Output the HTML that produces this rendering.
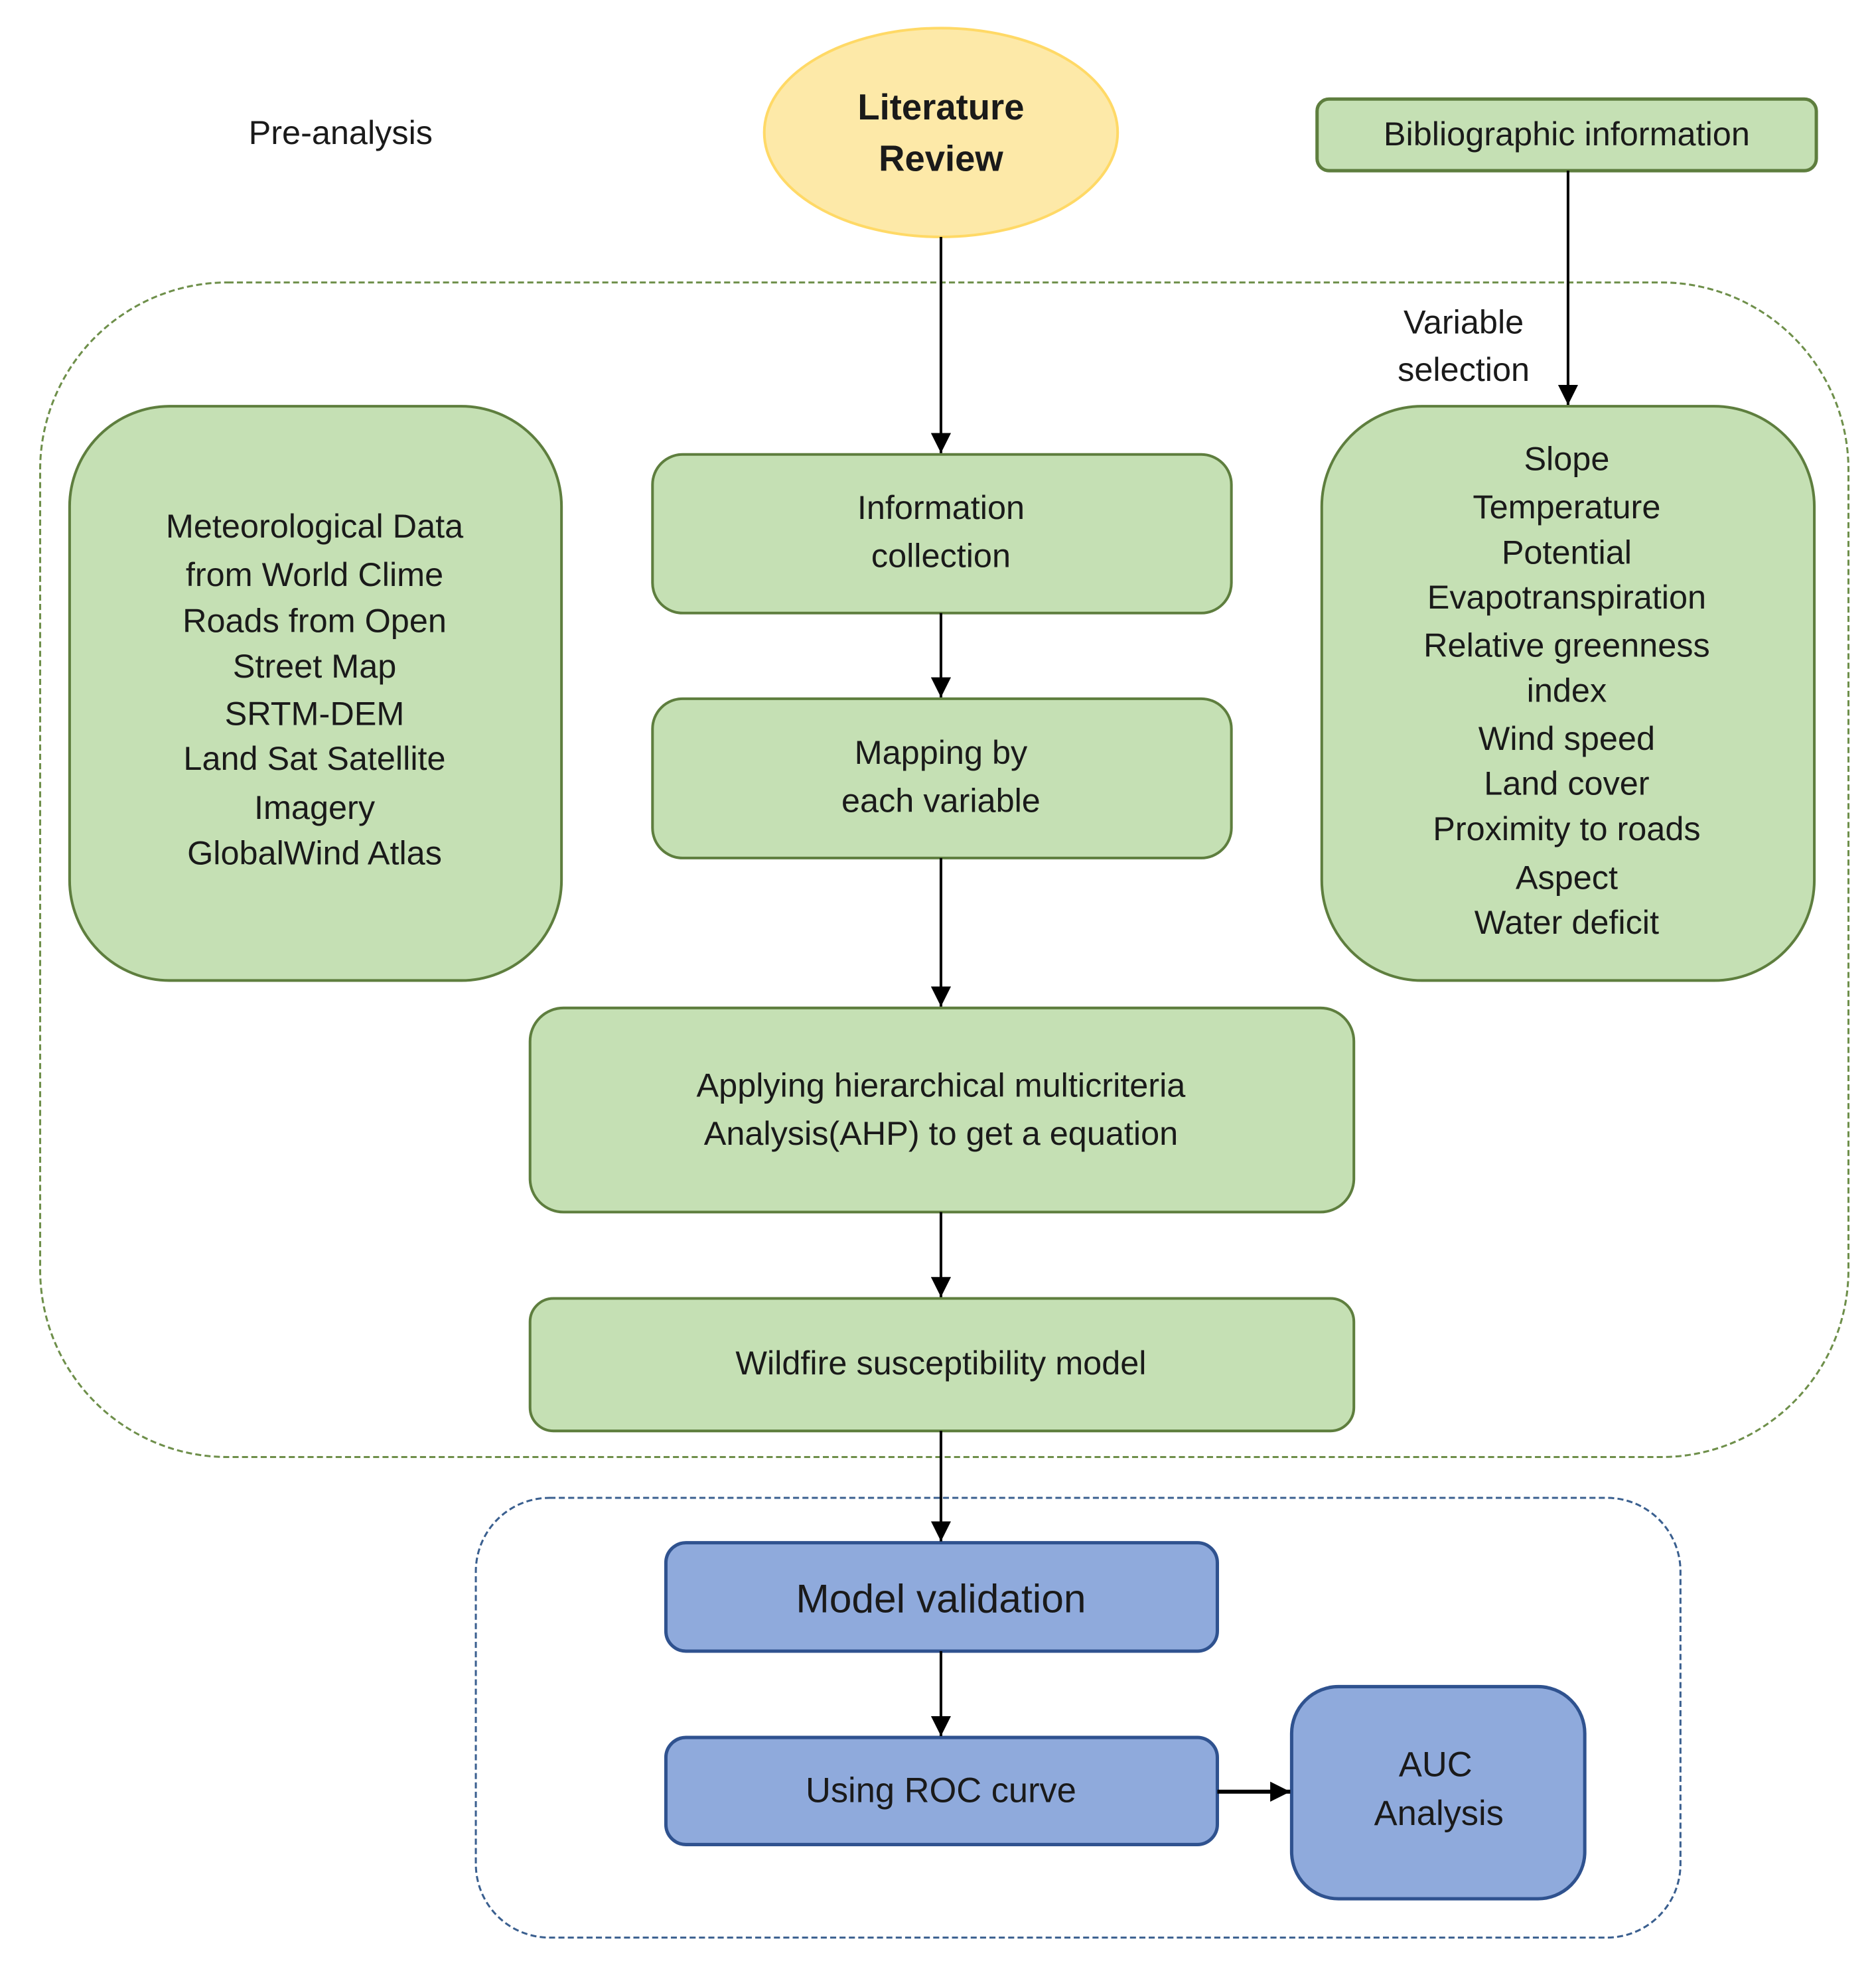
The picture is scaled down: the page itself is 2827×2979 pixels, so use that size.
<!DOCTYPE html>
<html><head><meta charset="utf-8"><style>
html,body{margin:0;padding:0;background:#fff;}
svg{display:block;}
text{font-family:"Liberation Sans",sans-serif;fill:#1a1a1a;text-anchor:middle;dominant-baseline:central;}
</style></head><body>
<svg width="2827" height="2979" viewBox="0 0 2827 2979" xmlns="http://www.w3.org/2000/svg">
<defs>
<marker id="a" viewBox="0 0 10 10" refX="10" refY="5" markerWidth="30" markerHeight="30" markerUnits="userSpaceOnUse" orient="auto"><path d="M0,0 L10,5 L0,10 Z" fill="#000"/></marker>
</defs>
<g transform="scale(1.0085)">
<rect x="60" y="422" width="2702" height="1755" rx="280" ry="280" fill="none" stroke="#6e8f4a" stroke-width="3" stroke-dasharray="9,5"/>
<rect x="711" y="2238" width="1800" height="657" rx="110" ry="110" fill="none" stroke="#3a5f8f" stroke-width="3" stroke-dasharray="9,5"/>

<text x="509" y="198" font-size="50">Pre-analysis</text>

<ellipse cx="1406" cy="198" rx="264" ry="156" fill="#fde9a8" stroke="#ffd966" stroke-width="4"/>
<text x="1406" y="160" font-size="54" font-weight="bold">Literature</text>
<text x="1406" y="237" font-size="54" font-weight="bold">Review</text>

<rect x="1968" y="148" width="746" height="107" rx="18" fill="#c5e0b4" stroke="#5e7e3e" stroke-width="5"/>
<text x="2341" y="200" font-size="50">Bibliographic information</text>

<text x="2187" y="481" font-size="50">Variable</text>
<text x="2187" y="552" font-size="50">selection</text>

<rect x="104" y="607" width="735" height="858" rx="150" fill="#c5e0b4" stroke="#5e7e3e" stroke-width="4"/>
<g font-size="50">
<text x="470" y="786">Meteorological Data</text>
<text x="470" y="858">from World Clime</text>
<text x="470" y="927">Roads from Open</text>
<text x="470" y="995">Street Map</text>
<text x="470" y="1066">SRTM-DEM</text>
<text x="470" y="1133">Land Sat Satellite</text>
<text x="470" y="1206">Imagery</text>
<text x="470" y="1274">GlobalWind Atlas</text>
</g>

<rect x="1975" y="607" width="736" height="858" rx="150" fill="#c5e0b4" stroke="#5e7e3e" stroke-width="4"/>
<g font-size="50">
<text x="2341" y="685">Slope</text>
<text x="2341" y="757">Temperature</text>
<text x="2341" y="825">Potential</text>
<text x="2341" y="892">Evapotranspiration</text>
<text x="2341" y="964">Relative greenness</text>
<text x="2341" y="1031">index</text>
<text x="2341" y="1103">Wind speed</text>
<text x="2341" y="1170">Land cover</text>
<text x="2341" y="1238">Proximity to roads</text>
<text x="2341" y="1311">Aspect</text>
<text x="2341" y="1378">Water deficit</text>
</g>

<rect x="975" y="679" width="865" height="237" rx="45" fill="#c5e0b4" stroke="#5e7e3e" stroke-width="4"/>
<text x="1406" y="758" font-size="50">Information</text>
<text x="1406" y="830" font-size="50">collection</text>

<rect x="975" y="1044" width="865" height="238" rx="45" fill="#c5e0b4" stroke="#5e7e3e" stroke-width="4"/>
<text x="1406" y="1124" font-size="50">Mapping by</text>
<text x="1406" y="1196" font-size="50">each variable</text>

<rect x="792" y="1506" width="1231" height="305" rx="50" fill="#c5e0b4" stroke="#5e7e3e" stroke-width="4"/>
<text x="1406" y="1621" font-size="50">Applying hierarchical multicriteria</text>
<text x="1406" y="1693" font-size="50">Analysis(AHP) to get a equation</text>

<rect x="792" y="1940" width="1231" height="198" rx="35" fill="#c5e0b4" stroke="#5e7e3e" stroke-width="4"/>
<text x="1406" y="2036" font-size="50">Wildfire susceptibility model</text>

<rect x="995" y="2305" width="824" height="162" rx="30" fill="#8faadc" stroke="#2f528f" stroke-width="5"/>
<text x="1406" y="2388" font-size="60">Model validation</text>

<rect x="995" y="2596" width="824" height="160" rx="30" fill="#8faadc" stroke="#2f528f" stroke-width="5"/>
<text x="1406" y="2676" font-size="52">Using ROC curve</text>

<rect x="1930" y="2520" width="438" height="317" rx="70" fill="#8faadc" stroke="#2f528f" stroke-width="5"/>
<text x="2145" y="2637" font-size="52">AUC</text>
<text x="2150" y="2710" font-size="52">Analysis</text>

<g stroke="#000" stroke-width="4" fill="none">
<line x1="1406" y1="354" x2="1406" y2="677" marker-end="url(#a)"/>
<line x1="2343" y1="255" x2="2343" y2="605" marker-end="url(#a)"/>
<line x1="1406" y1="916" x2="1406" y2="1042" marker-end="url(#a)"/>
<line x1="1406" y1="1282" x2="1406" y2="1504" marker-end="url(#a)"/>
<line x1="1406" y1="1811" x2="1406" y2="1938" marker-end="url(#a)"/>
<line x1="1406" y1="2138" x2="1406" y2="2303" marker-end="url(#a)"/>
<line x1="1406" y1="2467" x2="1406" y2="2594" marker-end="url(#a)"/>
<line x1="1819" y1="2677" x2="1928" y2="2677" stroke-width="6" marker-end="url(#a)"/>
</g>
</g>
</svg>
</body></html>
